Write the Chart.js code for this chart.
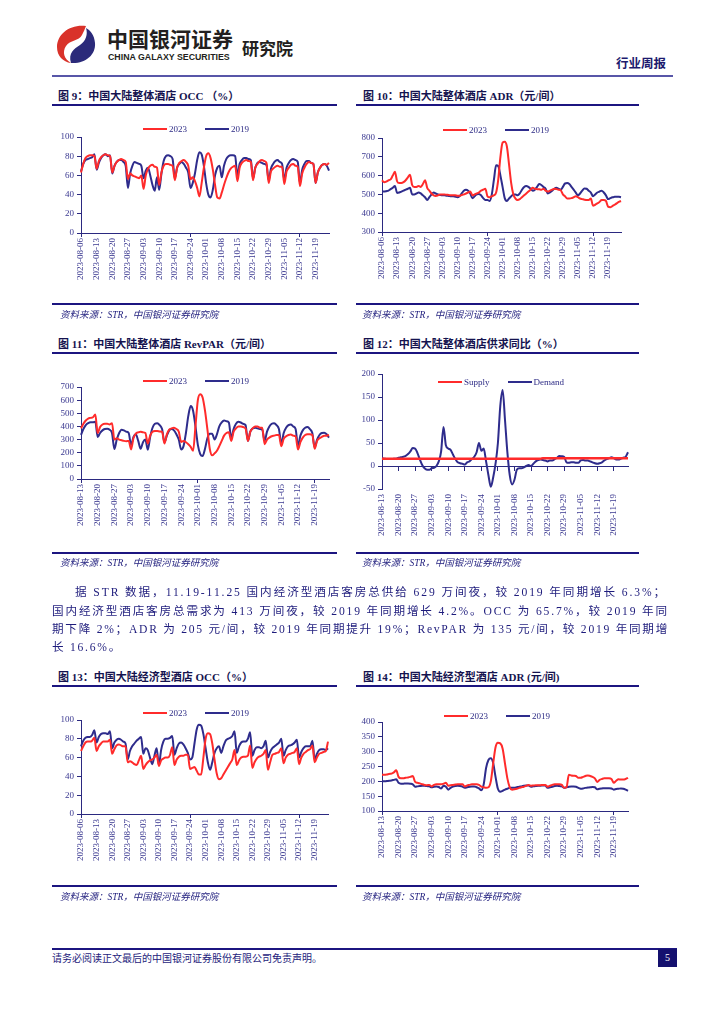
<!DOCTYPE html>
<html>
<head>
<meta charset="utf-8">
<script src="https://cdn.jsdelivr.net/npm/chart.js@4.4.0/dist/chart.umd.min.js"></script>
<style>
  body { margin: 0; background: #fff; width: 724px; height: 1024px; position: relative; overflow: hidden;
         font-family: "Liberation Serif", "Noto Sans CJK SC", serif; color: #1e1c7c; }
  .abs { position: absolute; white-space: nowrap; }
  .rule { position: absolute; background: #1c1580; }
  .title { position: absolute; font-size: 11px; font-weight: bold; line-height: 14px; color: #15134f; white-space: nowrap; }
  .src { position: absolute; font-size: 9.5px; font-style: italic; line-height: 12px; color: #1e1c7c; white-space: nowrap; }
  .para { position: absolute; font-size: 11.6px; line-height: 18px; color: #1e1c7c; white-space: nowrap; }
  .legend { position: absolute; display: flex; align-items: center; font-size: 9px; line-height: 12px; color: #2d2b85; }
  .legend .sw { display: inline-block; width: 24px; height: 2px; margin-right: 2px; }
  .legend .lab { margin-right: 18px; }
  canvas { position: absolute; }
</style>
</head>
<body>

<svg class="abs" style="left:55px;top:24px" width="42" height="40" viewBox="0 0 42 40">
  <path d="M31 2 C15 0 2 10 2 23 C2 32 8 38 16 39 C9 35 7 28 11 22 C15 16 24 17 27 11 C28.5 8 30 5 31 2 Z" fill="#d9322a"/>
  <path d="M16 39 C30 40 41 31 40 19 C39.5 11 35 6 31 4 C33 10 31 17 25 21 C19 25 13 29 16 39 Z" fill="#2b2a7a"/>
</svg>
<div class="abs" style="left:107px;top:26px;font-family:'Noto Sans CJK SC';font-weight:bold;font-size:21px;line-height:24px;color:#231f20">中国银河证券</div>
<div class="abs" style="left:108px;top:51px;font-family:'Liberation Sans';font-weight:bold;font-size:8.8px;line-height:12px;color:#231f20">CHINA GALAXY SECURITIES</div>
<div class="abs" style="left:242px;top:38px;font-family:'Noto Sans CJK SC';font-weight:bold;font-size:17px;line-height:20px;color:#231f20">研究院</div>
<div class="abs" style="left:616px;top:55px;font-family:'Noto Sans CJK SC';font-weight:bold;font-size:12.5px;line-height:16px;color:#1c1a6e">行业周报</div>
<div class="rule" style="left:52px;top:75px;width:621px;height:2px;background:#5856a8"></div>

<div class="title" style="left:58px;top:89px">图 9：中国大陆整体酒店 OCC （%）</div>
<div class="title" style="left:363px;top:89px">图 10：中国大陆整体酒店 ADR（元/间）</div>
<div class="rule" style="left:52px;top:104px;width:285px;height:2px"></div>
<div class="rule" style="left:356px;top:104px;width:283px;height:2px"></div>

<div class="title" style="left:58px;top:337px">图 11：中国大陆整体酒店 RevPAR（元/间）</div>
<div class="title" style="left:363px;top:337px">图 12：中国大陆整体酒店供求同比（%）</div>
<div class="rule" style="left:52px;top:352px;width:285px;height:2px"></div>
<div class="rule" style="left:356px;top:352px;width:283px;height:2px"></div>

<div class="title" style="left:58px;top:670px">图 13：中国大陆经济型酒店 OCC（%）</div>
<div class="title" style="left:363px;top:670px">图 14：中国大陆经济型酒店 ADR (元/间)</div>
<div class="rule" style="left:52px;top:685px;width:285px;height:2px"></div>
<div class="rule" style="left:356px;top:685px;width:283px;height:2px"></div>

<canvas id="c9"></canvas>
<canvas id="c10"></canvas>
<canvas id="c11"></canvas>
<canvas id="c12"></canvas>
<canvas id="c13"></canvas>
<canvas id="c14"></canvas>

<div class="legend" id="lg9" style="left:143px;top:123px"></div>
<div class="legend" id="lg10" style="left:443px;top:124px"></div>
<div class="legend" id="lg11" style="left:143px;top:375px"></div>
<div class="legend" id="lg12" style="left:438px;top:376px"></div>
<div class="legend" id="lg13" style="left:143px;top:707px"></div>
<div class="legend" id="lg14" style="left:444px;top:710px"></div>

<div class="rule" style="left:52px;top:303px;width:285px;height:2px"></div>
<div class="rule" style="left:356px;top:303px;width:283px;height:2px"></div>
<div class="src" style="left:60px;top:309px">资料来源：STR，中国银河证券研究院</div>
<div class="src" style="left:362px;top:309px">资料来源：STR，中国银河证券研究院</div>

<div class="rule" style="left:52px;top:552px;width:285px;height:2px"></div>
<div class="rule" style="left:356px;top:552px;width:283px;height:2px"></div>
<div class="src" style="left:60px;top:557px">资料来源：STR，中国银河证券研究院</div>
<div class="src" style="left:362px;top:557px">资料来源：STR，中国银河证券研究院</div>

<div class="rule" style="left:52px;top:885px;width:285px;height:2px"></div>
<div class="rule" style="left:356px;top:885px;width:283px;height:2px"></div>
<div class="src" style="left:60px;top:891px">资料来源：STR，中国银河证券研究院</div>
<div class="src" style="left:362px;top:891px">资料来源：STR，中国银河证券研究院</div>

<div class="para" style="left:75px;top:584px"><span data-w="592">据 STR 数据，11.19-11.25 国内经济型酒店客房总供给 629 万间夜，较 2019 年同期增长 6.3%；</span></div>
<div class="para" style="left:52px;top:603px"><span data-w="617">国内经济型酒店客房总需求为 413 万间夜，较 2019 年同期增长 4.2%。OCC 为 65.7%，较 2019 年同</span></div>
<div class="para" style="left:52px;top:621px"><span data-w="617" id="p3">期下降 2%；ADR 为 205 元/间，较 2019 年同期提升 19%；RevPAR 为 135 元/间，较 2019 年同期增</span></div>
<div class="para" style="left:52px;top:639px"><span id="p4">长 16.6%。</span></div>

<div class="rule" style="left:52px;top:948px;width:625px;height:1.5px"></div>
<div class="abs" style="left:52px;top:953px;font-size:10px;line-height:12px;color:#1e1c7c">请务必阅读正文最后的中国银河证券股份有限公司免责声明。</div>
<div class="abs" style="left:658px;top:949px;width:19px;height:18px;background:#14106e;color:#fff;font-size:10px;line-height:18px;text-align:center">5</div>

<script>
// 周标签
const weekTicksA = ['2023-08-06', '2023-08-13', '2023-08-20', '2023-08-27', '2023-09-03', '2023-09-10', '2023-09-17', '2023-09-24',
  '2023-10-01', '2023-10-08', '2023-10-15', '2023-10-22', '2023-10-29', '2023-11-05', '2023-11-12', '2023-11-19'];
const weekTicksB = ['2023-08-13', '2023-08-20', '2023-08-27', '2023-09-03', '2023-09-10', '2023-09-17', '2023-09-24',
  '2023-10-01', '2023-10-08', '2023-10-15', '2023-10-22', '2023-10-29', '2023-11-05', '2023-11-12', '2023-11-19'];

// 图9 整体 OCC (08-06 起，逐日)
const occ2023 = [63,72,78,80,81,81,80, 67,75,79,81,82,81,80, 63,70,74,76,77,76,74, 56,62,60,59,58,57,60,
  46,60,67,70,71,69,68, 50,63,70,72,72,71,70, 55,68,73,75,76,74,70, 56,58,54,47,38,52,68,
  80,83,78,66,50,37,36, 42,50,57,63,67,69,70, 54,68,73,75,76,75,74, 55,68,72,75,76,75,73,
  52,64,67,69,70,69,69, 51,64,68,71,72,70,69, 49,62,68,72,74,73,72, 52,63,68,71,72,71,73];
const occ2019 = [64,72,76,77,78,79,82, 66,73,78,81,82,80,81, 62,70,74,76,76,74,70, 47,62,70,74,73,72,70,
  57,65,68,60,50,44,58, 45,62,75,80,81,80,77, 57,68,72,74,72,68,63, 47,52,62,76,84,82,70,
  52,40,37,45,60,68,70, 58,70,77,80,81,81,80, 60,72,76,78,78,77,76, 57,68,73,74,73,72,71,
  55,67,72,75,76,74,72, 55,68,73,76,77,76,74, 52,66,72,75,75,73,72, 52,63,68,71,72,70,65];

// 图10 整体 ADR
const adr2023 = [575,565,568,575,580,600,620, 570,560,560,565,575,590,605, 550,540,540,545,540,555,575,
  535,520,505,495,492,495,500, 500,500,498,497,495,495,495, 493,493,497,500,505,510,515,
  495,500,505,510,520,525,530, 490,485,490,495,510,580,700, 775,780,755,660,560,500,478,
  470,475,485,495,505,515,525, 535,530,528,527,525,530,520, 515,520,525,530,528,525,522,
  500,490,478,478,480,485,490, 485,478,475,472,470,470,478, 440,445,452,460,470,470,465,
  435,432,438,445,452,460,465];
const adr2019 = [515,515,517,520,528,535,545, 508,510,515,520,525,530,535, 500,500,505,510,505,495,485,
  470,485,500,510,505,500,497, 495,495,493,492,490,490,488, 485,490,505,520,525,520,505,
  480,490,500,502,495,480,470, 470,465,500,580,655,650,600, 540,480,465,478,490,500,500,
  495,505,525,540,545,540,530, 520,525,540,555,550,540,530, 505,510,520,530,535,530,525,
  540,558,560,555,540,525,510, 495,505,520,532,530,520,510, 490,500,510,515,520,510,495,
  475,480,485,487,488,488,485];

// 图11 整体 RevPAR (08-13 起)
const rev2023 = [385,420,445,460,465,470,490, 350,395,415,420,420,415,425, 300,310,300,295,290,288,290,
  225,310,345,355,360,355,350, 270,330,360,365,365,362,360, 270,340,375,385,390,380,360,
  282,290,280,265,245,215,400, 600,645,620,520,380,230,180, 195,215,250,290,330,350,355,
  290,360,385,400,400,395,385, 290,360,385,400,400,390,390, 265,300,315,325,330,335,335,
  250,305,325,335,338,330,325, 225,280,315,335,340,340,335, 230,290,310,320,330,330,335];
const rev2019 = [335,380,410,425,432,432,435, 320,350,370,380,382,375,350, 228,300,350,375,370,360,350,
  260,320,340,290,230,280,300, 222,320,390,420,425,410,380, 280,330,370,380,370,340,300,
  225,250,350,480,555,520,400, 260,190,175,230,310,345,345, 300,340,400,430,445,440,430,
  310,380,420,435,430,420,410, 290,360,385,390,385,380,375, 290,360,400,420,425,410,380,
  270,350,390,410,415,400,380, 255,330,370,390,395,380,350, 240,300,335,350,352,340,315];

// 图12 供求同比
const supply = [16,16,16,16,16,16,16, 16,16,16,16,16,16,16, 16,16,16,16,16,16,16, 16,16,16,16,16,16,16,
  16,16,16,16,16,16,16, 16,16,16,16,16,16,16, 16,16,16,16,16,16,16, 16,16,16,16,16,16,16,
  16,16,16,16,16,16,16, 16,16,16,16,16,17,17, 17,17,17,17,17,17,17, 17,17,17,17,17,17,17,
  17,17,17,17,17,17,17, 17,17,17,17,17,17,17, 17,17,17,17,17,17,17];
const demand = [17,16,15,15,15,16,16, 18,19,20,22,26,32,39, 38,28,14,2,-5,-8,-8, -5,-4,0,10,32,85,45,
  38,35,25,15,8,6,5, 3,8,10,15,20,30,50, 33,38,10,-20,-45,-25,5, 50,130,165,100,30,-20,-40,
  -30,-8,-5,-5,-3,0,2, 0,5,10,13,14,13,12, 10,12,12,15,18,22,21, 20,8,7,8,8,7,7,
  12,13,12,12,10,8,6, 5,6,8,12,15,17,19, 17,14,14,16,18,20,30];

// 图13 经济型 OCC (08-06 起)
const eocc2023 = [67,72,76,77,77,78,81, 67,72,75,77,77,77,79, 64,69,73,74,73,72,72, 55,56,55,53,52,57,62,
  48,52,55,57,58,60,63, 51,57,59,60,60,63,71, 52,58,61,62,62,63,63, 48,49,50,46,42,42,60,
  80,86,85,75,58,43,37, 38,42,46,50,54,58,68, 52,57,60,61,61,62,73, 49,55,59,61,62,64,68,
  47,55,63,64,65,66,70, 54,60,63,64,65,66,70, 53,60,64,66,68,69,73, 55,60,64,65,66,67,77];
const eocc2019 = [72,78,81,82,82,84,89, 76,82,85,86,86,85,88, 70,76,79,80,79,77,75, 58,67,72,75,78,80,82,
  64,70,68,60,53,62,70, 52,68,77,80,80,81,83, 63,70,75,76,74,70,65, 58,60,75,90,95,94,85,
  70,55,47,55,65,70,72, 65,72,78,80,81,83,88, 65,72,76,77,77,80,87, 62,68,71,71,70,72,78,
  60,66,70,72,74,76,80, 62,68,72,73,74,76,79, 60,66,70,72,72,72,78, 58,64,68,69,69,68,70];

// 图14 经济型 ADR (08-13 起)
const eadr2023 = [222,222,223,225,226,230,237, 215,210,210,212,213,215,218, 198,195,193,190,188,187,188,
  183,188,190,190,190,192,195, 185,187,188,189,190,190,190, 183,186,188,190,190,190,188,
  182,180,178,180,200,260,315, 330,328,310,260,210,180,172, 173,175,178,180,182,185,188,
  185,186,187,187,187,188,188, 182,185,188,190,190,190,188, 178,180,222,220,219,218,212,
  212,215,218,220,218,215,210, 198,205,208,210,210,210,208, 195,202,207,206,206,208,212];
const eadr2019 = [200,200,201,202,203,205,207, 195,192,192,193,193,192,190, 182,183,184,185,185,184,183,
  180,182,183,181,176,185,182, 172,178,182,184,185,184,182, 178,180,182,183,183,180,176,
  170,190,245,272,278,262,215, 175,165,168,172,175,178,178, 178,180,182,183,185,186,186,
  182,183,184,185,185,186,186, 178,180,182,184,185,184,183, 178,180,182,183,183,182,178,
  175,176,178,179,180,181,180, 173,175,176,177,177,177,176, 172,174,175,176,175,172,168];

const RED = '#ff2b2b';
const BLUE = '#2e2c8c';
const NAVY = '#2b2980';
const TICK = '#3a3890';
const CLEAR = 'rgba(0,0,0,0)';

// 段落逐行撑满
document.querySelectorAll('.para span[data-w]').forEach(sp => {
  const target = parseFloat(sp.dataset.w);
  const w = sp.getBoundingClientRect().width;
  const n = sp.textContent.length;
  sp.style.letterSpacing = ((target - w) / n) + 'px';
});
document.getElementById('p4').style.letterSpacing = document.getElementById('p3').style.letterSpacing;

function legend(id, sets) {
  document.getElementById(id).innerHTML = sets.map(s =>
    `<span class="sw" style="background:${s.color}"></span><span class="lab">${s.label}</span>`).join('');
}

function makeChart(id, area, tickLabels, yMin, yMax, yStep, sets, zeroAxis) {
  const padL = 45, padT = 30, padR = 12, padB = 72;
  const cv = document.getElementById(id);
  cv.width = area.r - area.l + padL + padR;
  cv.height = area.b - area.t + padT + padB;
  cv.style.left = (area.l - padL) + 'px';
  cv.style.top = (area.t - padT) + 'px';

  const n = sets[0].data.length;
  const labels = [];
  for (let i = 0; i < n; i++) labels.push(i);

  const scales = {
    x: {
      ticks: {
        autoSkip: false, maxRotation: 90, minRotation: 90, padding: 1, color: TICK,
        font: { family: 'Liberation Serif', size: 9 },
        callback: (v, i) => (i % 7 === 0 ? tickLabels[i / 7] : null)
      },
      grid: {
        display: !zeroAxis, drawOnChartArea: false, tickLength: 4,
        tickColor: ctx => (ctx.index % 7 === 0 ? NAVY : CLEAR)
      },
      border: { display: !zeroAxis, color: NAVY, width: 1 },
      afterFit: s => { s.height = padB; }
    },
    y: {
      min: yMin, max: yMax,
      ticks: { stepSize: yStep, autoSkip: false, padding: 3, color: TICK, font: { family: 'Liberation Serif', size: 9 } },
      grid: { drawOnChartArea: false, tickLength: 4, tickColor: NAVY },
      border: { color: NAVY, width: 1 },
      afterFit: s => { s.width = padL; }
    }
  };
  if (zeroAxis) {
    // 0 轴线，标签放在底部
    scales.x2 = {
      type: 'category', position: { y: 0 },
      ticks: { display: false },
      grid: { drawOnChartArea: false, tickLength: 4, tickColor: ctx => (ctx.index % 7 === 0 ? NAVY : CLEAR) },
      border: { color: NAVY, width: 1 }
    };
  }

  legend('lg' + id.slice(1), sets);

  return new Chart(cv, {
    type: 'line',
    data: {
      labels: labels,
      datasets: sets.map(s => ({
        label: s.label, data: s.data, borderColor: s.color, borderWidth: s.width || 2,
        pointRadius: 0, fill: false, cubicInterpolationMode: 'monotone'
      }))
    },
    options: {
      responsive: false, animation: false, devicePixelRatio: 1,
      layout: { padding: { top: padT, right: padR, left: 0, bottom: 0 } },
      plugins: { legend: { display: false }, tooltip: { enabled: false } },
      scales: scales
    }
  });
}

makeChart('c9', { l: 81, r: 329, t: 137, b: 233 }, weekTicksA, 0, 100, 20,
  [{ label: '2023', data: occ2023, color: RED }, { label: '2019', data: occ2019, color: BLUE }]);
makeChart('c10', { l: 382, r: 621, t: 138, b: 232 }, weekTicksA, 300, 800, 100,
  [{ label: '2023', data: adr2023, color: RED }, { label: '2019', data: adr2019, color: BLUE }]);
makeChart('c11', { l: 81, r: 329, t: 387, b: 479 }, weekTicksB, 0, 700, 100,
  [{ label: '2023', data: rev2023, color: RED }, { label: '2019', data: rev2019, color: BLUE }]);
makeChart('c12', { l: 382, r: 628, t: 374, b: 489 }, weekTicksB, -50, 200, 50,
  [{ label: 'Supply', data: supply, color: RED, width: 2.5 }, { label: 'Demand', data: demand, color: BLUE }], true);
makeChart('c13', { l: 81, r: 328, t: 720, b: 814 }, weekTicksA, 0, 100, 20,
  [{ label: '2023', data: eocc2023, color: RED }, { label: '2019', data: eocc2019, color: BLUE }]);
makeChart('c14', { l: 382, r: 628, t: 722, b: 811 }, weekTicksB, 100, 400, 50,
  [{ label: '2023', data: eadr2023, color: RED }, { label: '2019', data: eadr2019, color: BLUE }]);
</script>
</body>
</html>
